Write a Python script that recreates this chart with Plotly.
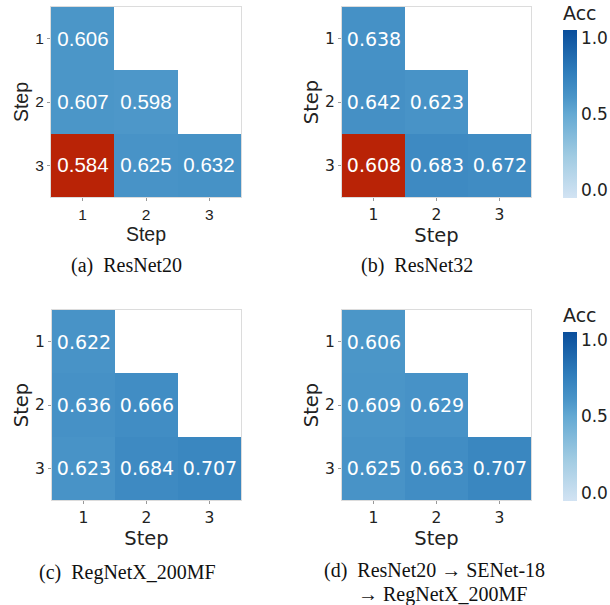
import plotly.graph_objects as go

# Step-by-step accuracy matrices (row = eval step, column = train step)
steps = [1, 2, 3]
acc_resnet20 = [[0.606, None, None],
                [0.607, 0.598, None],
                [0.584, 0.625, 0.632]]
acc_resnet32 = [[0.638, None, None],
                [0.642, 0.623, None],
                [0.608, 0.683, 0.672]]
acc_regnetx = [[0.622, None, None],
               [0.636, 0.666, None],
               [0.623, 0.684, 0.707]]
acc_mixed = [[0.606, None, None],
             [0.609, 0.629, None],
             [0.625, 0.663, 0.707]]
# cells flagged in red (row step, column step)
flagged = [(3, 1), (3, 1), None, None]
captions = ["(a)  ResNet20", "(b)  ResNet32", "(c)  RegNetX_200MF",
            "(d)  ResNet20 \u2192 SENet-18"]
caption_cont = "\u2192 RegNetX_200MF"
cbar_ticks = [0.0, 0.5, 1.0]

panels = [acc_resnet20, acc_resnet32, acc_regnetx, acc_mixed]

W, H = 610, 605
# pixel boxes of the four heatmaps: (left, right, top, bottom)
boxes = [(51, 241, 7, 197), (342, 531, 7, 197),
         (52, 241, 310, 500), (342, 531, 310, 500)]
# colorbar blocks (title top, bar bottom) in pixels
cbar_blocks = {1: (3, 198), 3: (305, 501)}
fonts = ["Liberation Sans", "DejaVu Sans", "DejaVu Sans", "DejaVu Sans"]
cell_sizes = [20.5, 19, 19, 19]

blues = [[0.0, "#d2e3f3"], [0.25, "#a0cbe2"], [0.5, "#64a9d3"],
         [0.6, "#4a95c8"], [0.75, "#2f7dbb"], [1.0, "#0a4e9b"]]
ZMIN, ZMAX = -0.05, 1.05

fig = go.Figure()
for i, z in enumerate(panels):
    xa = "x" if i == 0 else f"x{i+1}"
    ya = "y" if i == 0 else f"y{i+1}"
    show_cb = i in cbar_blocks
    l, r, t, b = boxes[i]
    cb = None
    if show_cb:
        ct, cbm = cbar_blocks[i]
        cb = dict(
            title=dict(text="Acc", side="top",
                       font=dict(family="DejaVu Sans", size=19, color="#222")),
            x=563 / W, xanchor="left", xpad=0,
            y=1 - cbm / H, yanchor="bottom",
            len=(cbm - ct) / H, lenmode="fraction", ypad=0,
            thickness=14, outlinewidth=0,
            tickvals=cbar_ticks, ticktext=[f"{v:.1f}" for v in cbar_ticks],
            ticks="", tickfont=dict(family="DejaVu Sans", size=17, color="#222"),
        )
    cell_font = dict(family=fonts[i], size=cell_sizes[i], color="white")
    fig.add_trace(go.Heatmap(
        x=steps, y=steps, z=z, xaxis=xa, yaxis=ya,
        colorscale=blues, zmin=ZMIN, zmax=ZMAX,
        showscale=show_cb, colorbar=cb,
        texttemplate="%{z:.3f}", textfont=cell_font,
        hoverongaps=False,
    ))
    if flagged[i] is not None:
        fr, fc = flagged[i]
        zr = [[z[r_][c_] if (r_ + 1, c_ + 1) == (fr, fc) else None
               for c_ in range(3)] for r_ in range(3)]
        fig.add_trace(go.Heatmap(
            x=steps, y=steps, z=zr, xaxis=xa, yaxis=ya,
            colorscale=[[0, "#b92306"], [1, "#b92306"]], showscale=False,
            texttemplate="%{z:.3f}", textfont=cell_font,
            hoverongaps=False,
        ))

    axis_common = dict(
        showgrid=False, zeroline=False, showline=True, mirror=True,
        linecolor="#dcdcdc", linewidth=1, ticks="outside", ticklen=3,
        tickcolor="#999", tickvals=steps, ticktext=[str(s) for s in steps],
        tickfont=dict(family=fonts[i], size=15.5, color="#222"),
        title=dict(text="Step", font=dict(family=fonts[i], size=19.5, color="#222")),
    )
    xkey = "xaxis" if i == 0 else f"xaxis{i+1}"
    ykey = "yaxis" if i == 0 else f"yaxis{i+1}"
    fig.update_layout(**{
        xkey: dict(axis_common, domain=[l / W, r / W], anchor=ya,
                   range=[0.5, 3.5], title_standoff=0),
        ykey: dict(axis_common, domain=[1 - b / H, 1 - t / H], anchor=xa,
                   range=[3.5, 0.5], title_standoff=1),
    })

cap_font = dict(family="Liberation Serif", size=20, color="#111")
cap_pos = [(126, 265), (417, 265), (127, 572), (434, 570)]
for (cx, cy), txt in zip(cap_pos, captions):
    fig.add_annotation(text=txt, x=cx / W, y=1 - cy / H, xref="paper", yref="paper",
                       showarrow=False, xanchor="center", yanchor="middle",
                       font=cap_font)
fig.add_annotation(text=caption_cont, x=356 / W, y=1 - 594 / H, xref="paper",
                   yref="paper", showarrow=False, xanchor="left", yanchor="middle",
                   font=cap_font)

fig.update_layout(width=W, height=H, margin=dict(l=0, r=0, t=0, b=0),
                  paper_bgcolor="white", plot_bgcolor="white", showlegend=False)
fig.write_html("out.html")
